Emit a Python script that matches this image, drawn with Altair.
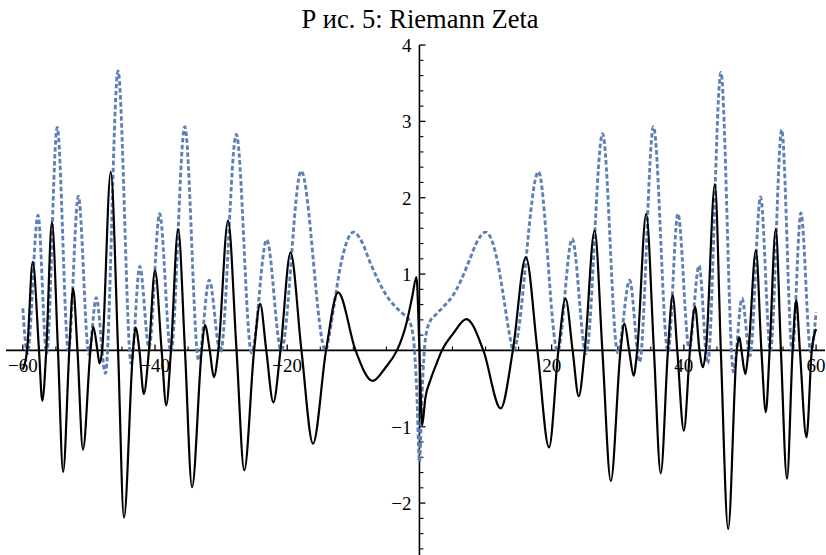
import altair as alt
import pandas as pd

# Real part of zeta(1/2+it) (dashed blue)
re_t = [-60.0, -59.3, -57.7, -56.4, -54.8, -53.1, -51.6, -50.0, -48.9, -47.5,
        -45.6, -43.6, -42.3, -40.9, -39.3, -37.6, -35.5, -33.4, -31.8, -30.1,
        -27.7, -25.4, -23.1, -20.9, -17.9, -14.2, -13.6, -12.9, -12.0, -11.0,
        -10.0, -8.7, -7.5, -6.3, -5.0, -3.6, -2.5, -1.6, -0.9, -0.4,
        0.0,
        0.4, 0.9, 1.6, 2.5, 3.6, 5.0, 6.3, 7.5, 8.7, 10.0,
        11.0, 12.0, 12.9, 13.6, 14.2, 18.0, 20.9, 23.1, 25.2, 27.7,
        30.0, 31.8, 33.3, 35.4, 37.6, 39.1, 40.8, 42.3, 43.6, 45.6,
        47.5, 48.8, 50.0, 51.6, 53.1, 54.8, 56.4, 57.7, 59.2, 60.0]
re_v = [0.55, -0.04, 1.77, -0.04, 2.92, 0.0, 2.02, -0.05, 0.69, -0.30,
        3.66, -0.17, 1.10, 0.04, 1.79, -0.02, 2.93, -0.13, 0.92, -0.03,
        2.83, -0.03, 1.45, 0.0, 2.35, 0.0, 0.22, 0.60, 1.08, 1.42,
        1.55, 1.42, 1.16, 0.93, 0.72, 0.57, 0.48, 0.40, 0.15, -0.55,
        -1.46,
        -0.55, 0.15, 0.38, 0.47, 0.57, 0.71, 0.92, 1.17, 1.42, 1.55,
        1.43, 1.08, 0.60, 0.22, 0.0, 2.34, -0.01, 1.46, -0.04, 2.84,
        -0.03, 0.92, -0.15, 2.93, -0.02, 1.79, 0.03, 1.11, -0.17, 3.64,
        -0.28, 0.68, -0.07, 2.01, 0.0, 2.89, -0.02, 1.80, -0.02, 0.50]

# Imaginary part of zeta(1/2+it) (solid black)
im_t = [-60.0, -59.35, -58.5, -57.55, -57.05, -56.45, -55.6, -54.68, -53.9, -52.97,
        -52.4, -51.73, -50.9, -49.77, -49.35, -48.71, -48.4, -48.0, -46.7, -45.59,
        -44.7, -43.33, -42.95, -42.36, -41.7, -40.92, -40.0, -39.0, -38.3, -37.59,
        -36.5, -35.47, -34.4, -32.94, -32.45, -31.72, -31.1, -30.42, -28.95, -27.67,
        -26.5, -25.01, -24.1, -23.17, -22.1, -21.02, -19.5, -17.85, -16.1, -14.13,
        -12.3, -9.67, -7.1, -5.1, -3.4, -2.6, -1.9, -1.1, -0.45, 0.0,
        0.4, 0.9, 1.7, 2.6, 3.4, 5.1, 7.1, 9.67, 12.3, 14.13,
        16.1, 17.85, 19.6, 21.02, 22.1, 23.17, 24.1, 25.01, 26.5, 27.67,
        28.95, 30.42, 31.0, 31.72, 32.4, 32.94, 34.3, 35.47, 36.5, 37.59,
        38.3, 39.0, 40.0, 40.92, 41.7, 42.36, 42.9, 43.33, 44.7, 45.59,
        46.7, 48.0, 48.4, 48.71, 49.3, 49.77, 50.9, 51.73, 52.4, 52.97,
        53.9, 54.68, 55.6, 56.45, 57.0, 57.55, 58.55, 59.35, 60.0]
im_v = [-0.25, 0.0, 1.16, 0.0, -0.66, 0.0, 1.68, 0.0, -1.59, 0.0,
        0.81, 0.0, -1.30, 0.0, 0.31, 0.0, -0.17, 0.0, 2.34, 0.0,
        -2.19, 0.0, 0.30, 0.0, -0.57, 0.0, 1.05, 0.0, -0.72, 0.0,
        1.59, 0.0, -1.79, 0.0, 0.33, 0.0, -0.35, 0.0, 1.70, 0.0,
        -1.57, 0.0, 0.61, 0.0, -0.68, 0.0, 1.28, 0.0, -1.22, 0.0,
        0.76, 0.0, -0.40, -0.22, 0.0, 0.17, 0.38, 0.70, 0.96, 0.0,
        -0.98, -0.62, -0.38, -0.17, 0.0, 0.22, 0.41, 0.0, -0.76, 0.0,
        1.22, 0.0, -1.27, 0.0, 0.68, 0.0, -0.60, 0.0, 1.57, 0.0,
        -1.71, 0.0, 0.35, 0.0, -0.33, 0.0, 1.79, 0.0, -1.61, 0.0,
        0.72, 0.0, -1.05, 0.0, 0.57, 0.0, -0.22, 0.0, 2.18, 0.0,
        -2.34, 0.0, 0.17, 0.0, -0.31, 0.0, 1.31, 0.0, -0.81, 0.0,
        1.59, 0.0, -1.68, 0.0, 0.66, 0.0, -1.14, 0.0, 0.28]

x_major = [-60, -40, -20, 20, 40, 60]
x_major_labels = ["\u221260", "\u221240", "\u221220", "20", "40", "60"]
x_minor = [-55, -50, -45, -35, -30, -25, -15, -10, -5, 5, 10, 15, 25, 30, 35, 45, 50, 55]
y_major = [-2, -1, 1, 2, 3, 4]
y_major_labels = ["\u22122", "\u22121", "1", "2", "3", "4"]
y_minor = [-2.6, -2.4, -2.2, -1.8, -1.6, -1.4, -1.2, -0.8, -0.6, -0.4, -0.2,
           0.2, 0.4, 0.6, 0.8, 1.2, 1.4, 1.6, 1.8, 2.2, 2.4, 2.6, 2.8,
           3.2, 3.4, 3.6, 3.8]

title_text = "\u0420 \u0438\u0441. 5: Riemann Zeta"

FONT = "Liberation Serif"
xs = alt.Scale(domain=[-63.45, 61.5], nice=False, zero=False)
ys = alt.Scale(domain=[-2.68, 4.59], nice=False, zero=False)

df_re = pd.DataFrame({"t": re_t, "v": re_v})
df_im = pd.DataFrame({"t": im_t, "v": im_v})

X = lambda f: alt.X(f, type="quantitative", scale=xs, axis=None)
Y = lambda f: alt.Y(f, type="quantitative", scale=ys, axis=None)

re_line = alt.Chart(df_re).mark_line(
    color="#5E81B5", strokeWidth=2.9, strokeDash=[4.5, 2.5], interpolate="monotone"
).encode(x=X("t"), y=Y("v"), order="t:Q")

im_line = alt.Chart(df_im).mark_line(
    color="black", strokeWidth=2.2, interpolate="monotone"
).encode(x=X("t"), y=Y("v"), order="t:Q")

# axes
x_axis = alt.Chart(pd.DataFrame({"z": [0]})).mark_rule(color="black", strokeWidth=1.6).encode(
    x=alt.value(6), x2=alt.value(825), y=Y("z"))
y_axis = alt.Chart(pd.DataFrame({"z": [0], "top": [4.0], "bot": [-2.68]})).mark_rule(
    color="black", strokeWidth=1.6).encode(x=X("z"), y=Y("top"), y2="bot:Q")

df_xmaj = pd.DataFrame({"t": x_major, "z": [0] * len(x_major), "lab": x_major_labels})
df_xmin = pd.DataFrame({"t": x_minor, "z": [0] * len(x_minor)})
df_ymaj = pd.DataFrame({"v": y_major, "z": [0] * len(y_major), "lab": y_major_labels})
df_ymin = pd.DataFrame({"v": y_minor, "z": [0] * len(y_minor)})

xt_major = alt.Chart(df_xmaj).mark_tick(orient="vertical", size=6, thickness=1.3,
                                        yOffset=-3, color="black", opacity=1).encode(x=X("t"), y=Y("z"))
xt_minor = alt.Chart(df_xmin).mark_tick(orient="vertical", size=4, thickness=1.1,
                                        yOffset=-2, color="black", opacity=1).encode(x=X("t"), y=Y("z"))
yt_major = alt.Chart(df_ymaj).mark_tick(orient="horizontal", size=6, thickness=1.3,
                                        xOffset=3, color="black", opacity=1).encode(x=X("z"), y=Y("v"))
yt_minor = alt.Chart(df_ymin).mark_tick(orient="horizontal", size=4, thickness=1.1,
                                        xOffset=2, color="black", opacity=1).encode(x=X("z"), y=Y("v"))

x_labels = alt.Chart(df_xmaj).mark_text(font=FONT, fontSize=19, align="center",
                                        baseline="middle", dy=16, color="black").encode(
    x=X("t"), y=Y("z"), text="lab:N")
y_labels = alt.Chart(df_ymaj).mark_text(font=FONT, fontSize=19, align="right",
                                        baseline="middle", dx=-8, dy=1, color="black").encode(
    x=X("z"), y=Y("v"), text="lab:N")

title = alt.Chart(pd.DataFrame({"s": [title_text]})).mark_text(
    font=FONT, fontSize=26.5, align="center", baseline="middle", color="black").encode(
    x=alt.value(420), y=alt.value(20), text="s:N")

chart = alt.layer(
    x_labels, y_labels, x_axis, y_axis, xt_major, xt_minor, yt_major, yt_minor,
    re_line, im_line, title
).properties(
    width=826, height=555, autosize=alt.AutoSizeParams(type="none"), padding=0,
    background="white"
).configure_view(stroke=None)

chart.save("out.html", embed_options={"renderer": "svg", "actions": False})
